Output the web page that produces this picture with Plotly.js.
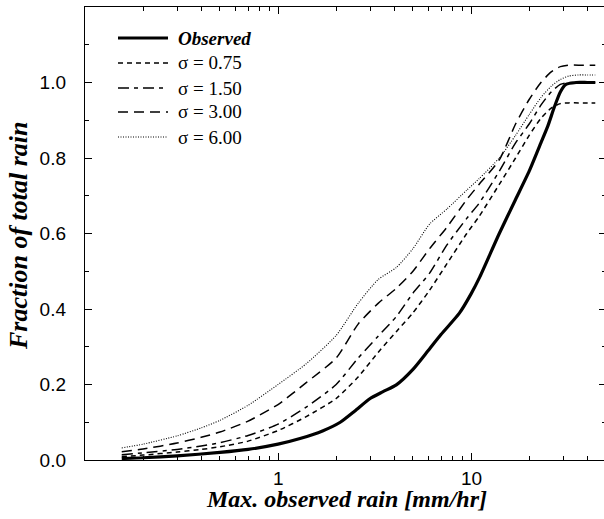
<!DOCTYPE html>
<html>
<head>
<meta charset="utf-8">
<script src="https://cdn.plot.ly/plotly-3.0.1.min.js"></script>
<style>
  html, body { margin: 0; padding: 0; background: #fff; overflow: hidden; }
  #chart { width: 606px; height: 519px; }
</style>
</head>
<body>
<div id="chart"></div>
<script>
// Cumulative fraction of total rain vs. maximum observed rain rate
const seriesNames = ["Observed", "σ = 0.75", "σ = 1.50", "σ = 3.00", "σ = 6.00"];

const xObserved = [0.155, 0.2, 0.3, 0.5, 0.7, 1.0, 1.3, 1.7, 2.1, 2.5, 3.0, 3.5, 4.1, 5.0, 6.0, 7.0, 8.7, 10, 11.1, 14, 17, 20, 23, 25, 27, 29, 31, 35, 40, 44];
const observed  = [0.004, 0.006, 0.011, 0.020, 0.028, 0.042, 0.057, 0.077, 0.100, 0.130, 0.163, 0.181, 0.199, 0.240, 0.290, 0.333, 0.389, 0.440, 0.485, 0.600, 0.690, 0.765, 0.840, 0.885, 0.935, 0.975, 0.995, 1.000, 1.000, 1.000];

const xSmoothed = [0.155, 0.2, 0.3, 0.4, 0.5, 0.7, 1.0, 1.4, 2.0, 2.6, 3.3, 4.1, 5, 6.1, 7.5, 9.5, 11, 14, 17, 20, 23, 26, 29, 32, 36, 40, 44];
const sigma075 = [0.009, 0.013, 0.021, 0.028, 0.035, 0.050, 0.078, 0.115, 0.163, 0.220, 0.285, 0.340, 0.390, 0.450, 0.520, 0.600, 0.645, 0.730, 0.800, 0.860, 0.905, 0.932, 0.944, 0.946, 0.946, 0.946, 0.946];
const sigma150 = [0.014, 0.019, 0.028, 0.037, 0.046, 0.065, 0.095, 0.140, 0.200, 0.270, 0.328, 0.380, 0.442, 0.495, 0.570, 0.640, 0.680, 0.765, 0.840, 0.890, 0.940, 0.975, 0.995, 1.000, 1.000, 1.000, 1.000];
const sigma300 = [0.022, 0.029, 0.045, 0.060, 0.074, 0.103, 0.147, 0.205, 0.270, 0.360, 0.415, 0.455, 0.500, 0.560, 0.617, 0.690, 0.730, 0.795, 0.890, 0.955, 1.000, 1.028, 1.042, 1.046, 1.046, 1.046, 1.046];
const sigma600 = [0.032, 0.042, 0.064, 0.085, 0.105, 0.145, 0.200, 0.255, 0.330, 0.415, 0.478, 0.510, 0.560, 0.625, 0.665, 0.715, 0.745, 0.800, 0.860, 0.915, 0.960, 0.990, 1.008, 1.017, 1.020, 1.020, 1.020];

const xTickVals = [1, 10];
const xTickText = ["1", "10"];
const xMinorVals = [0.2, 0.3, 0.4, 0.5, 0.6, 0.7, 0.8, 0.9, 2, 3, 4, 5, 6, 7, 8, 9, 20, 30, 40];
const yTickVals = [0, 0.2, 0.4, 0.6, 0.8, 1.0];
const yTickText = ["0.0", "0.2", "0.4", "0.6", "0.8", "1.0"];
const yMinorVals = [0.1, 0.3, 0.5, 0.7, 0.9, 1.1];
const xTitle = "Max. observed rain [mm/hr]";
const yTitle = "Fraction of total rain";

const styles = [
  { width: 3.2, dash: "solid" },
  { width: 1.5, dash: "5px,4px" },
  { width: 1.5, dash: "11px,5px,4px,5px" },
  { width: 1.5, dash: "10px,6px" },
  { width: 1.1, dash: "1px,1.5px" }
];

const xs = [xObserved, xSmoothed, xSmoothed, xSmoothed, xSmoothed];
const ys = [observed, sigma075, sigma150, sigma300, sigma600];

// Draw the smoothed curves first so the observed line sits on top
const order = [4, 3, 2, 1, 0];
const traces = order.map(i => ({
  x: xs[i], y: ys[i], name: seriesNames[i],
  type: "scatter", mode: "lines",
  line: { color: "#000", width: styles[i].width, dash: styles[i].dash, shape: "spline", smoothing: 0.6 },
  showlegend: false, hoverinfo: "skip"
}));

// Plot-area box in pixels; the right frame edge runs just past the page edge
const W = 606, H = 519;
const L = 85, R = 606, T = 7, B = 460;
const px = X => (X - L) / (R - L);
const py = Y => (B - Y) / (B - T);

// Hand-placed key in the upper left of the plot area
const rowsY = [38, 63, 88, 112, 137];
const shapes = [];
const annotations = [];
seriesNames.forEach((name, i) => {
  shapes.push({
    type: "line", xref: "paper", yref: "paper",
    x0: px(118), x1: px(168), y0: py(rowsY[i]), y1: py(rowsY[i]),
    line: { color: "#000", width: styles[i].width, dash: styles[i].dash }
  });
  annotations.push({
    xref: "paper", yref: "paper", x: px(176), y: py(rowsY[i]),
    xanchor: "left", yanchor: "middle", showarrow: false,
    text: i === 0 ? "<b><i>" + name + "</i></b>" : name,
    font: { family: "Liberation Serif, Times New Roman, serif", size: 19, color: "#000" }
  });
});

const tickFont = { family: "Liberation Sans, Arial, Helvetica, sans-serif", size: 19, color: "#000" };

// Decade labels under the x axis, placed on the log axis itself
xTickVals.forEach((v, i) => {
  annotations.push({
    xref: "x", yref: "paper", x: Math.log10(v), y: py(478),
    xanchor: "center", yanchor: "middle", showarrow: false,
    text: xTickText[i], font: tickFont
  });
});

const serif = "Liberation Serif, Times New Roman, serif";
// Axis titles
annotations.push({
  xref: "paper", yref: "paper", x: px(346), y: py(499),
  xanchor: "center", yanchor: "middle", showarrow: false,
  text: "<b><i>" + xTitle + "</i></b>",
  font: { family: serif, size: 24, color: "#000" }
});
annotations.push({
  xref: "paper", yref: "paper", x: px(19), y: py(236),
  xanchor: "center", yanchor: "middle", showarrow: false, textangle: -90,
  text: "<b><i>" + yTitle + "</i></b>",
  font: { family: serif, size: 26, color: "#000" }
});

const layout = {
  width: W, height: H,
  margin: { l: L, r: W - R, t: T, b: H - B, pad: 0 },
  paper_bgcolor: "#fff", plot_bgcolor: "#fff",
  showlegend: false,
  xaxis: {
    type: "log", range: [-1, Math.log10(50)],
    tickmode: "array", tickvals: xTickVals, ticktext: xTickText, showticklabels: false,
    ticks: "inside", ticklen: 7, tickwidth: 1, tickcolor: "#000",
    minor: { tickmode: "array", tickvals: xMinorVals, ticks: "inside", ticklen: 4, tickwidth: 1, tickcolor: "#000", showgrid: false },
    showline: true, linecolor: "#000", linewidth: 1.2, mirror: "ticks",
    showgrid: false, zeroline: false,
    automargin: false
  },
  yaxis: {
    range: [0, 1.2],
    tickmode: "array", tickvals: yTickVals, ticktext: yTickText,
    ticks: "inside", ticklen: 7, tickwidth: 1, tickcolor: "#000",
    minor: { tickmode: "array", tickvals: yMinorVals, ticks: "inside", ticklen: 4, tickwidth: 1, tickcolor: "#000", showgrid: false },
    showline: true, linecolor: "#000", linewidth: 1.2, mirror: "ticks",
    showgrid: false, zeroline: false,
    tickfont: tickFont, ticklabelstandoff: 14,
    automargin: false
  },
  shapes: shapes,
  annotations: annotations
};

Plotly.newPlot("chart", traces, layout, { staticPlot: true, displayModeBar: false });
</script>
</body>
</html>
